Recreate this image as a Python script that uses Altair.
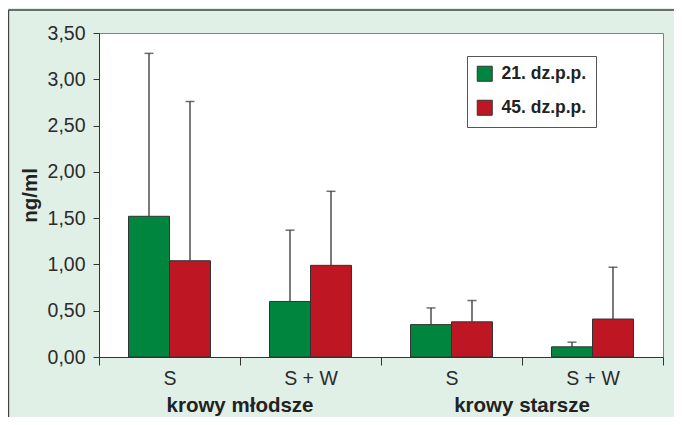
import altair as alt
import pandas as pd

groups = ["krowy młodsze", "krowy młodsze", "krowy starsze", "krowy starsze"]
treatments = ["S", "S + W", "S", "S + W"]
series = ["21. dz.p.p.", "45. dz.p.p."]
mean_21 = [1.52, 0.60, 0.35, 0.11]
upper_21 = [3.28, 1.37, 0.53, 0.16]
mean_45 = [1.04, 0.99, 0.38, 0.41]
upper_45 = [2.76, 1.79, 0.61, 0.97]
y_ticks = [0, 0.5, 1.0, 1.5, 2.0, 2.5, 3.0, 3.5]

keys = [f"{g}/{t}" for g, t in zip(groups, treatments)]
rows = []
for i, k in enumerate(keys):
    rows.append({"key": k, "series": series[0], "value": mean_21[i], "upper": upper_21[i]})
    rows.append({"key": k, "series": series[1], "value": mean_45[i], "upper": upper_45[i]})
df = pd.DataFrame(rows)

grp_df = pd.DataFrame({"key": [keys[0], keys[2]], "label": [groups[0], groups[2]]})

W, H = 564, 324
GREEN, RED = "#00853f", "#be1622"
DARK = "#333333"
FONT = "Liberation Sans"

xscale = alt.Scale(domain=keys, paddingInner=0, paddingOuter=0)
xoff = alt.XOffset("series:N", scale=alt.Scale(domain=series, paddingOuter=0.72, paddingInner=0))
yscale = alt.Scale(domain=[0, 3.5], nice=False)

bars = alt.Chart(df).mark_bar(stroke=DARK, strokeWidth=1).encode(
    x=alt.X("key:N", scale=xscale, sort=keys, title=None,
            axis=alt.Axis(labelExpr="split(datum.label, '/')[1]", tickBand="extent",
                          labelAngle=0, tickSize=8, labelPadding=4)),
    xOffset=xoff,
    y=alt.Y("value:Q", scale=yscale, title="ng/ml",
            axis=alt.Axis(values=y_ticks,
                          labelExpr="replace(format(datum.value, '.2f'), '.', ',')",
                          tickSize=6, labelPadding=8, titlePadding=7)),
    color=alt.Color("series:N", scale=alt.Scale(domain=series, range=[GREEN, RED]),
                    legend=alt.Legend(title=None, orient="none", legendX=368, legendY=23,
                                      fillColor="white", strokeColor="#555555", padding=9,
                                      symbolType="square", symbolSize=225,
                                      symbolStrokeColor=DARK, symbolStrokeWidth=1,
                                      symbolOpacity=1,
                                      labelFont=FONT, labelFontSize=17.5, labelFontWeight="bold",
                                      labelColor="#222222", labelOffset=8, rowPadding=14,
                                      cornerRadius=0)),
)

err = alt.Chart(df).mark_rule(color=DARK, strokeWidth=1.3).encode(
    x=alt.X("key:N", scale=xscale, sort=keys),
    xOffset=xoff,
    y=alt.Y("value:Q", scale=yscale),
    y2="upper:Q",
)

caps = alt.Chart(df).mark_tick(color=DARK, thickness=1.5, size=9, orient="horizontal").encode(
    x=alt.X("key:N", scale=xscale, sort=keys),
    xOffset=xoff,
    y=alt.Y("upper:Q", scale=yscale),
)

glabels = alt.Chart(grp_df).mark_text(font=FONT, fontSize=20.5, fontWeight="bold",
                                      color="#222222", baseline="alphabetic").encode(
    x=alt.X("key:N", scale=xscale, sort=keys, bandPosition=1),
    y=alt.value(H + 55),
    text="label:N",
)

frame_left = alt.Chart(grp_df).mark_rule(color="#444444", strokeWidth=1.2).encode(
    x=alt.value(-90.5), y=alt.value(-23), y2=alt.value(H + 80))
frame_top = alt.Chart(grp_df).mark_rule(color="#444444", strokeWidth=1.2).encode(
    x=alt.value(-90.5), x2=alt.value(W + 30), y=alt.value(-23))

chart = alt.layer(bars, err, caps, glabels, frame_left, frame_top).properties(
    width=W, height=H,
    padding={"left": 91, "top": 25, "right": 11, "bottom": 60},
    autosize=alt.AutoSizeParams(type="none"),
    background="#e1f0e6",
).configure_view(stroke="#808080", strokeWidth=1, fill="white").configure_axis(
    labelFont=FONT, labelFontSize=19.5, labelColor="#2b2b2b",
    titleFont=FONT, titleFontSize=20.5, titleFontWeight="bold", titleColor="#222222",
    domainColor=DARK, tickColor=DARK, grid=False,
)

chart.save("out.html", embed_options={"renderer": "svg", "actions": False})
